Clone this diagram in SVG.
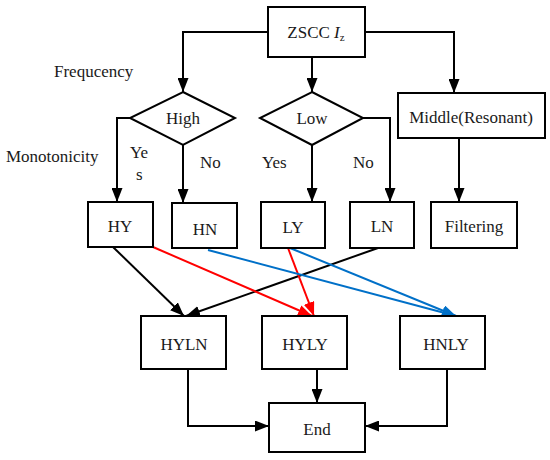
<svg xmlns="http://www.w3.org/2000/svg" width="550" height="460" viewBox="0 0 550 460">
<defs>
<marker id="ab" markerUnits="userSpaceOnUse" markerWidth="14" markerHeight="11" refX="14" refY="5.5" orient="auto"><path d="M0,0 L14,5.5 L0,11 z" fill="#000"/></marker>
<marker id="ar" markerUnits="userSpaceOnUse" markerWidth="14" markerHeight="11" refX="14" refY="5.5" orient="auto"><path d="M0,0 L14,5.5 L0,11 z" fill="#ff0000"/></marker>
<marker id="au" markerUnits="userSpaceOnUse" markerWidth="14" markerHeight="11" refX="14" refY="5.5" orient="auto"><path d="M0,0 L14,5.5 L0,11 z" fill="#0070c8"/></marker>
<style>
.box{fill:#fff;stroke:#000;stroke-width:2}
text{font-family:'Liberation Serif','DejaVu Serif',serif;font-size:17px;fill:#1a1a1a}
.t{text-anchor:middle}
.c{fill:none;stroke:#000;stroke-width:2;marker-end:url(#ab)}
.r{fill:none;stroke:#ff0000;stroke-width:2;marker-end:url(#ar)}
.u{fill:none;stroke:#0070c8;stroke-width:2;marker-end:url(#au)}
</style>
</defs>
<rect width="550" height="460" fill="#fff"/>
<g id="connectors">
<polyline class="c" points="268,32 183,32 183,92"/>
<line class="c" x1="312" y1="57" x2="312" y2="92"/>
<polyline class="c" points="365,32 454,32 454,93"/>
<polyline class="c" points="130,118 117,118 117,202"/>
<line class="c" x1="183" y1="145" x2="183" y2="203"/>
<line class="c" x1="312" y1="145" x2="312" y2="202"/>
<polyline class="c" points="363,118 390,118 390,202"/>
<line class="c" x1="459" y1="138" x2="459" y2="202"/>
<line class="c" x1="113" y1="247" x2="184" y2="316"/>
<line class="c" x1="378" y1="248" x2="186" y2="316"/>
<line class="r" x1="153" y1="247" x2="312" y2="316"/>
<line class="r" x1="288" y1="248" x2="314" y2="316"/>
<line class="u" x1="208" y1="250" x2="456" y2="316"/>
<line class="u" x1="290" y1="248" x2="456" y2="316"/>
<polyline class="c" points="188,369 188,426 269,426"/>
<line class="c" x1="317" y1="369" x2="317" y2="403"/>
<polyline class="c" points="447,369 447,426 365,426"/>
</g>
<g id="zscc"><rect class="box" x="268" y="7" width="97" height="50"/><text class="t" x="316" y="38" font-family="Liberation Serif, serif">ZSCC <tspan font-style="italic">I</tspan><tspan font-size="11" dy="3">z</tspan></text></g>
<g id="high"><polygon class="box" points="183,92 235,118 183,145 130,118"/><text class="t" x="183" y="124">High</text></g>
<g id="low"><polygon class="box" points="312,92 363,118 312,145 260,118"/><text class="t" x="312" y="124">Low</text></g>
<g id="middle"><rect class="box" x="398" y="93" width="147" height="45"/><text class="t" x="471" y="123">Middle(Resonant)</text></g>
<g id="hy"><rect class="box" x="88" y="202" width="65" height="45"/><text class="t" x="120" y="232">HY</text></g>
<g id="hn"><rect class="box" x="172" y="203" width="65" height="45"/><text class="t" x="205" y="235">HN</text></g>
<g id="ly"><rect class="box" x="261" y="202" width="64" height="46"/><text class="t" x="293" y="233">LY</text></g>
<g id="ln"><rect class="box" x="350" y="202" width="64" height="46"/><text class="t" x="382" y="232">LN</text></g>
<g id="filtering"><rect class="box" x="431" y="202" width="86" height="46"/><text class="t" x="474" y="232">Filtering</text></g>
<g id="hyln"><rect class="box" x="141" y="316" width="85" height="53"/><text class="t" x="184" y="350">HYLN</text></g>
<g id="hyly"><rect class="box" x="262" y="316" width="85" height="53"/><text class="t" x="305" y="350">HYLY</text></g>
<g id="hnly"><rect class="box" x="400" y="316" width="85" height="53"/><text class="t" x="446" y="350">HNLY</text></g>
<g id="end"><rect class="box" x="269" y="403" width="96" height="49"/><text class="t" x="317" y="435">End</text></g>
<g id="labels">
<text x="54" y="77">Frequcency</text>
<text x="6" y="162">Monotonicity</text>
<text x="130" y="158">Ye</text>
<text x="136" y="180">s</text>
<text x="200" y="168">No</text>
<text x="262" y="168">Yes</text>
<text x="353" y="168">No</text>
</g>
</svg>
